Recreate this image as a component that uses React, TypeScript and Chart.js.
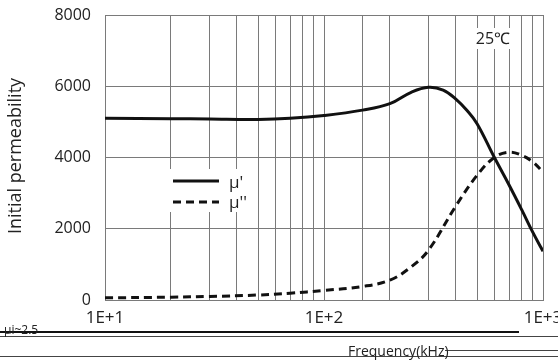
import React, { useEffect, useRef } from "react";
import { Chart, registerables } from "chart.js";

Chart.register(...registerables);

const freq = [10, 20, 30, 50, 70, 100, 150, 200, 250, 300, 350, 400, 450, 500, 600, 700, 800, 900, 1000];
const muReal = [5100, 5090, 5080, 5070, 5100, 5180, 5330, 5510, 5830, 5970, 5890, 5640, 5320, 4950, 4000, 3230, 2530, 1890, 1370];
const freqImag = [10, 20, 30, 50, 70, 100, 150, 200, 250, 300, 400, 500, 600, 700, 800, 900, 1000];
const muImag = [60, 80, 100, 140, 190, 270, 380, 560, 930, 1400, 2640, 3500, 4000, 4150, 4060, 3870, 3590];
const xTickValues = [10, 100, 1000];
const xTickLabels = ["1E+1", "1E+2", "1E+3"];
const legendLabels = ["μ'", "μ''"];
const tempLabel = "25℃";
const yTitle = "Initial permeability";
const xTitle = "Frequency(kHz)";
const noteLabel = "μi~2.5";

const FONT = "'Open Sans', sans-serif";

const overlayPlugin = {
  id: "overlay",
  afterDraw(chart: any) {
    const ctx = chart.ctx;
    ctx.save();
    ctx.fillStyle = "#222";
    ctx.font = `18px ${FONT}`;
    ctx.textAlign = "center";
    ctx.textBaseline = "middle";
    ctx.save();
    ctx.translate(16, 156);
    ctx.rotate(-Math.PI / 2);
    ctx.fillText(yTitle, 0, 0);
    ctx.restore();

    ctx.fillStyle = "#fff";
    ctx.fillRect(163, 169, 92, 43);
    ctx.strokeStyle = "#111";
    ctx.lineWidth = 3;
    ctx.beginPath();
    ctx.moveTo(173, 181);
    ctx.lineTo(219, 181);
    ctx.stroke();
    ctx.setLineDash([8, 5]);
    ctx.beginPath();
    ctx.moveTo(173, 202);
    ctx.lineTo(219, 202);
    ctx.stroke();
    ctx.setLineDash([]);
    ctx.fillStyle = "#222";
    ctx.font = `17px ${FONT}`;
    ctx.textAlign = "left";
    ctx.fillText(legendLabels[0], 229, 183);
    ctx.fillText(legendLabels[1], 229, 203);

    ctx.fillStyle = "#fff";
    ctx.fillRect(472, 28, 41, 21);
    ctx.fillStyle = "#222";
    ctx.font = `16px ${FONT}`;
    ctx.textAlign = "center";
    ctx.fillText(tempLabel, 493, 39);

    ctx.strokeStyle = "#111";
    ctx.lineWidth = 2;
    ctx.beginPath();
    ctx.moveTo(0, 332);
    ctx.lineTo(519, 332);
    ctx.stroke();
    ctx.lineWidth = 1;
    ctx.strokeStyle = "#444";
    ctx.beginPath();
    ctx.moveTo(0, 336.5);
    ctx.lineTo(558, 336.5);
    ctx.moveTo(0, 356.5);
    ctx.lineTo(558, 356.5);
    ctx.moveTo(445, 350.5);
    ctx.lineTo(558, 350.5);
    ctx.stroke();
    ctx.fillStyle = "#222";
    ctx.font = `14px ${FONT}`;
    ctx.textAlign = "left";
    ctx.fillText(xTitle, 348, 352);
    ctx.font = `12px ${FONT}`;
    ctx.fillText(noteLabel, 4, 331);
    ctx.restore();
  },
};

export default function App() {
  const ref = useRef<HTMLCanvasElement>(null);
  useEffect(() => {
    if (!ref.current) return;
    const chart = new Chart(ref.current, {
      type: "line",
      data: {
        datasets: [
          {
            label: legendLabels[0],
            data: freq.map((f, i) => ({ x: f, y: muReal[i] })),
            borderColor: "#111",
            borderWidth: 3,
            pointRadius: 0,
            tension: 0.4,
            fill: false,
          },
          {
            label: legendLabels[1],
            data: freqImag.map((f, i) => ({ x: f, y: muImag[i] })),
            borderColor: "#111",
            borderWidth: 3,
            borderDash: [8, 5],
            pointRadius: 0,
            tension: 0.4,
            fill: false,
          },
        ],
      },
      options: {
        responsive: false,
        animation: false,
        layout: { padding: { top: 15, right: 15, left: 0, bottom: 0 } },
        plugins: { legend: { display: false }, tooltip: { enabled: false } },
        scales: {
          x: {
            type: "logarithmic",
            min: 10,
            max: 1000,
            grid: { color: "#7a7a7a", lineWidth: 1, drawTicks: false },
            border: { color: "#7a7a7a" },
            ticks: {
              autoSkip: false,
              maxRotation: 0,
              padding: 8,
              color: "#222",
              font: { family: FONT, size: 17 },
              callback: (v: any) => {
                const idx = xTickValues.findIndex((t) => Math.abs(t - Number(v)) < 1e-6);
                return idx >= 0 ? xTickLabels[idx] : "";
              },
            },
            afterFit: (s: any) => {
              s.height = 61;
              s.paddingLeft = 0;
              s.paddingRight = 0;
            },
          },
          y: {
            min: 0,
            max: 8000,
            grid: { color: "#7a7a7a", lineWidth: 1, drawTicks: false },
            border: { color: "#7a7a7a" },
            ticks: {
              stepSize: 2000,
              padding: 14,
              color: "#222",
              font: { family: FONT, size: 16 },
              callback: (v: any) => String(v),
            },
            afterFit: (s: any) => {
              s.width = 105;
              s.paddingTop = 0;
              s.paddingBottom = 0;
            },
          },
        },
      },
      plugins: [overlayPlugin],
    } as any);
    return () => chart.destroy();
  }, []);
  return (
    <div style={{ position: "absolute", left: 0, top: 0, width: 558, height: 361, background: "#fff" }}>
      <canvas ref={ref} width={558} height={361} />
    </div>
  );
}
